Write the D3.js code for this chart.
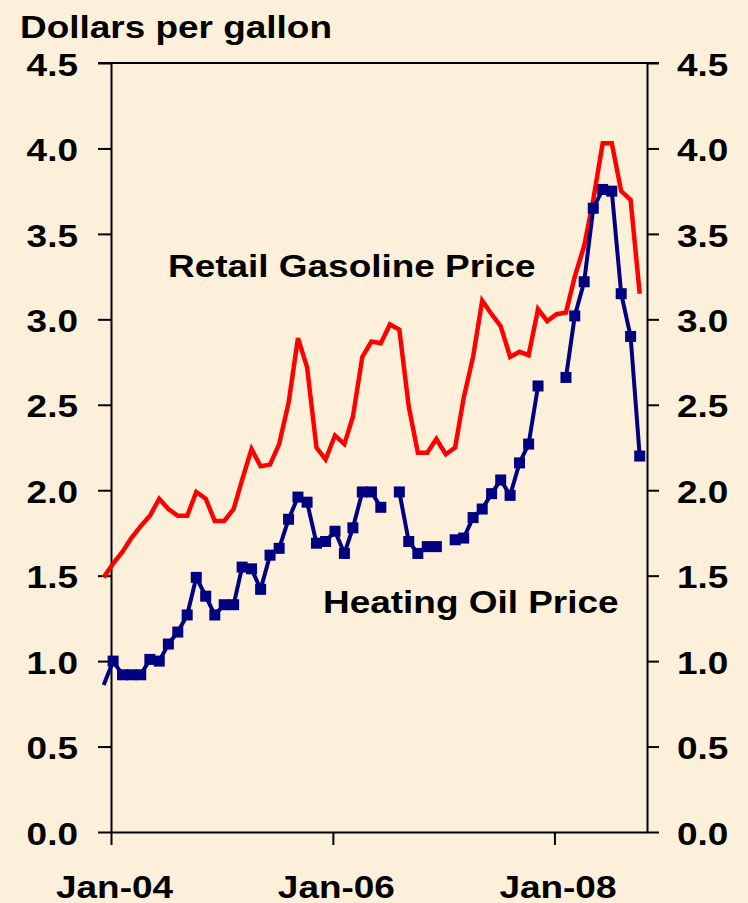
<!DOCTYPE html>
<html>
<head>
<meta charset="utf-8">
<script src="https://cdn.jsdelivr.net/npm/d3@7"></script>
<style>
    body { margin: 0; background: #fcf0db; }
    svg { display: block; }
</style>
</head>
<body>
<div id="chart"></div>
<script>
const GAS_COLOR = "#ff0000";
const OIL_COLOR = "#000080";

// months, Dec-03 .. Oct-08
const months = [
    "2003-12",
    "2004-01", "2004-02", "2004-03", "2004-04", "2004-05", "2004-06", "2004-07", "2004-08", "2004-09", "2004-10", "2004-11", "2004-12",
    "2005-01", "2005-02", "2005-03", "2005-04", "2005-05", "2005-06", "2005-07", "2005-08", "2005-09", "2005-10", "2005-11", "2005-12",
    "2006-01", "2006-02", "2006-03", "2006-04", "2006-05", "2006-06", "2006-07", "2006-08", "2006-09", "2006-10", "2006-11", "2006-12",
    "2007-01", "2007-02", "2007-03", "2007-04", "2007-05", "2007-06", "2007-07", "2007-08", "2007-09", "2007-10", "2007-11", "2007-12",
    "2008-01", "2008-02", "2008-03", "2008-04", "2008-05", "2008-06", "2008-07", "2008-08", "2008-09", "2008-10"
];

const gasolinePrice = [
    1.49,
    1.57, 1.64, 1.72, 1.79, 1.85, 1.95, 1.89, 1.85, 1.85, 1.99, 1.95, 1.82,
    1.82, 1.89, 2.06, 2.24, 2.14, 2.15, 2.27, 2.51, 2.89, 2.72, 2.25, 2.18,
    2.32, 2.27, 2.43, 2.78, 2.87, 2.86, 2.97, 2.94, 2.49, 2.22, 2.22, 2.30,
    2.21, 2.25, 2.54, 2.78, 3.11, 3.03, 2.96, 2.78, 2.81, 2.79, 3.06, 2.99,
    3.03, 3.04, 3.25, 3.43, 3.70, 4.03, 4.03, 3.75, 3.70, 3.15
];

const heatingOilPrice = [
    0.86,
    1.00, 0.92, 0.92, 0.92, 1.01, 1.00, 1.10, 1.17, 1.27, 1.49, 1.38, 1.27,
    1.33, 1.33, 1.55, 1.54, 1.42, 1.62, 1.66, 1.83, 1.96, 1.93, 1.69, 1.70,
    1.76, 1.63, 1.78, 1.99, 1.99, 1.90, null, 1.99, 1.70, 1.63, 1.67, 1.67,
    null, 1.71, 1.72, 1.84, 1.89, 1.98, 2.06, 1.97, 2.16, 2.27, 2.61, null,
    null, 2.66, 3.02, 3.22, 3.65, 3.76, 3.75, 3.15, 2.90, 2.20
];

const yTicks = [0, 0.5, 1, 1.5, 2, 2.5, 3, 3.5, 4, 4.5];
const xTickLabels = ["Jan-04", "Jan-06", "Jan-08"];

const width = 748;
const height = 903;
const margin = { top: 63, right: 101, bottom: 71, left: 111 };
const STRETCH = 1.155;
const FONT = "'Liberation Sans', Arial, sans-serif";

const parseMonth = d3.timeParse("%Y-%m");
const parseTick = d3.timeParse("%b-%y");

// points sit a week into each month
const data = months.map((m, i) => {
    const dt = parseMonth(m);
    dt.setDate(8);
    return { date: dt, gas: gasolinePrice[i], oil: heatingOilPrice[i] };
});

const x = d3
    .scaleTime()
    .domain([new Date(2004, 0, 1), new Date(2008, 10, 1)])
    .range([margin.left, width - margin.right]);

const y = d3
    .scaleLinear()
    .domain([0, 4.5])
    .range([height - margin.bottom, margin.top]);

const svg = d3
    .select("#chart")
    .append("svg")
    .attr("width", width)
    .attr("height", height);

svg.append("rect")
    .attr("width", width)
    .attr("height", height)
    .attr("fill", "#fcf0db");

// axes
const yAxisLeft = d3.axisLeft(y)
    .tickValues(yTicks)
    .tickFormat(d3.format(".1f"))
    .tickSize(13)
    .tickSizeOuter(0);

const yAxisRight = d3.axisRight(y)
    .tickValues(yTicks)
    .tickFormat(d3.format(".1f"))
    .tickSize(12)
    .tickSizeOuter(0);

const xAxis = d3.axisBottom(x)
    .tickValues(xTickLabels.map(parseTick))
    .tickFormat(d3.timeFormat("%b-%y"))
    .tickSize(13)
    .tickSizeOuter(0);

function styleAxis(g) {
    g.select(".domain").attr("stroke", "#000").attr("stroke-width", 2);
    g.selectAll(".tick line").attr("stroke", "#000").attr("stroke-width", 2);
    g.selectAll("text")
        .attr("fill", "#000")
        .attr("font-family", FONT)
        .attr("font-weight", "bold")
        .attr("font-size", 32);
}

svg.append("g")
    .attr("transform", "translate(" + margin.left + ",0)")
    .call(yAxisLeft)
    .call(styleAxis)
    .selectAll("text")
    .attr("x", -28.6)
    .attr("dy", "0.38em")
    .attr("transform", "scale(" + STRETCH + ",1)");

svg.append("g")
    .attr("transform", "translate(" + (width - margin.right) + ",0)")
    .call(yAxisRight)
    .call(styleAxis)
    .selectAll("text")
    .attr("x", 26)
    .attr("dy", "0.38em")
    .attr("transform", "scale(" + STRETCH + ",1)");

svg.append("g")
    .attr("transform", "translate(0," + (height - margin.bottom) + ")")
    .call(xAxis)
    .call(styleAxis)
    .selectAll("text")
    .attr("x", 2.6)
    .attr("y", 66)
    .attr("dy", 0)
    .attr("transform", "scale(" + STRETCH + ",1)");

// top frame line
svg.append("line")
    .attr("x1", x.range()[0] - 13)
    .attr("x2", x.range()[1] + 12)
    .attr("y1", y(4.5))
    .attr("y2", y(4.5))
    .attr("stroke", "#000")
    .attr("stroke-width", 2);

// series
const gasLine = d3.line()
    .x(d => x(d.date))
    .y(d => y(d.gas));

const oilLine = d3.line()
    .defined(d => d.oil != null)
    .x(d => x(d.date))
    .y(d => y(d.oil));

svg.append("path")
    .datum(data)
    .attr("d", gasLine)
    .attr("fill", "none")
    .attr("stroke", GAS_COLOR)
    .attr("stroke-width", 4.5)
    .attr("stroke-linejoin", "miter");

svg.append("path")
    .datum(data)
    .attr("d", oilLine)
    .attr("fill", "none")
    .attr("stroke", OIL_COLOR)
    .attr("stroke-width", 4)
    .attr("stroke-linejoin", "miter");

const sq = 11;
svg.append("g")
    .selectAll("rect")
    .data(data.filter(d => d.oil != null && d.date >= x.domain()[0]))
    .join("rect")
    .attr("x", d => x(d.date) - sq / 2)
    .attr("y", d => y(d.oil) - sq / 2)
    .attr("width", sq)
    .attr("height", sq)
    .attr("fill", OIL_COLOR);

// labels
function label(text, tx, ty) {
    svg.append("text")
        .attr("transform", "translate(" + tx + "," + ty + ") scale(" + STRETCH + ",1)")
        .attr("font-family", FONT)
        .attr("font-weight", "bold")
        .attr("font-size", 32)
        .attr("fill", "#000")
        .text(text);
}

label("Dollars per gallon", 20, 38);
label("Retail Gasoline Price", 168, 277);
label("Heating Oil Price", 323, 613);
</script>
</body>
</html>
